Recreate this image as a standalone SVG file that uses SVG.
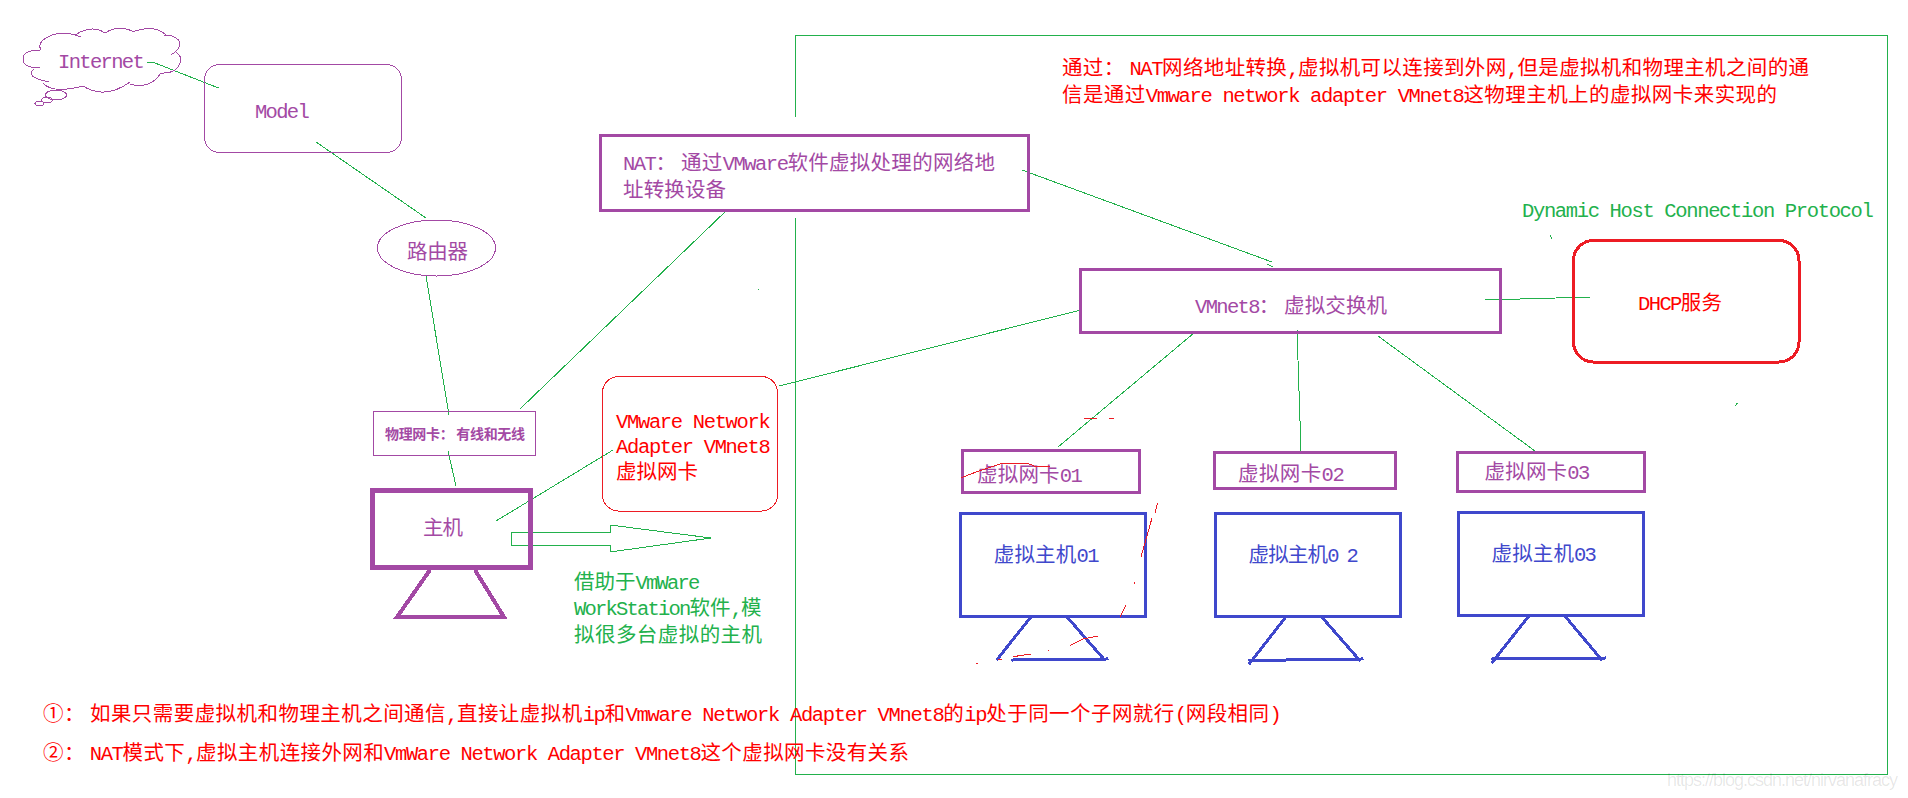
<svg xmlns="http://www.w3.org/2000/svg" width="1908" height="798" viewBox="0 0 1908 798">
<style>
path,rect,ellipse{shape-rendering:crispEdges}
text{font-family:"Noto Sans CJK SC","Liberation Mono",monospace;font-size:20.5px;white-space:pre}
.l{font-family:"Liberation Mono","Noto Sans CJK SC",monospace;font-size:20.5px;letter-spacing:-1.8px}
.p{fill:#A349A4}.r{fill:#FF0000}.g{fill:#22B14C}.b{fill:#3F48CC}
.box{fill:none;stroke:#A349A4;stroke-width:3}
.thin{fill:none;stroke:#A349A4;stroke-width:1}
.host{fill:none;stroke:#3F48CC;stroke-width:3}
.stand{fill:none;stroke:#3F48CC;stroke-width:3;stroke-linecap:square}
.c{fill:none;stroke:#22B14C;stroke-width:1}
.s{fill:none;stroke:#ED1C24;stroke-width:1}
</style>
<rect width="1908" height="798" fill="#fff"/>
<g id="frame" class="c"><path d="M795.500 117V35.500H1887.500V774.500H795.500V218"/></g>
<g id="connectors" class="c">
<path d="M147 62L155 63L218.500 88"/>
<path d="M316 142L426 218"/>
<path d="M426 276L449 415"/>
<path d="M448 451L456 486"/>
<path d="M520 409L727 210"/>
<path d="M496 521L613 450"/>
<path d="M779 386L1081 310"/>
<path d="M1022 170L1272 262M1267 264L1273 267"/>
<path d="M1485 300L1591 297"/>
<path d="M1194 333L1058 447"/>
<path d="M1297 330L1301 451"/>
<path d="M1378 336L1535 451"/>
<path d="M511 532H610V525L711 538L610 552V545H511Z"/>
<path d="M758.500 288.500V290M1550 235L1552 239M1735 406L1737.500 403"/>
</g>
<g id="internet">
<path class="thin" d="M40 50Q23 50 23 59T40 68M34 69Q24 77 49 82M43 83Q52 94 83 86M83 86Q105 100 130 82M130 84Q150 90 161 73M161 73Q178 74 181 60Q181 56 176 52M171 55Q186 45 176 38Q172 35 164 35M166 35Q155 24 132 32M134 32Q119 24 105 33M105 33Q92 24 75 35M81 37Q59 28 43 40Q38 45 41 50"/>
<ellipse class="thin" cx="56" cy="95" rx="10.500" ry="5"/><ellipse class="thin" cx="47" cy="100" rx="5.500" ry="3"/><ellipse class="thin" cx="39.500" cy="103.500" rx="4.500" ry="2"/>
<text class="p l" x="58" y="68" textLength="85">Internet</text>
</g>
<g id="model"><rect class="thin" x="204.500" y="64.500" width="197" height="88" rx="15"/><text class="p l" x="255" y="118" textLength="53">Model</text></g>
<g id="router"><ellipse class="thin" cx="436.500" cy="248" rx="59" ry="28"/><text class="p" x="407" y="259" textLength="61">路由器</text></g>
<g id="physical-nic"><rect class="thin" x="373.500" y="411.500" width="162" height="44"/><text class="p" x="385" y="439" font-weight="700" style="font-size:14px" textLength="140">物理网卡： 有线和无线</text></g>
<g id="host"><rect x="372.500" y="490.500" width="158" height="77" fill="none" stroke="#A349A4" stroke-width="5"/><path d="M430 570L397 617H504L475 570" fill="none" stroke="#A349A4" stroke-width="4"/><text class="p" x="423" y="535" textLength="40">主机</text></g>
<g id="adapter"><rect x="602.500" y="376.500" width="175" height="134.500" rx="16" fill="none" stroke="#ED1C24" stroke-width="1"/>
<text class="r l" x="616" y="427.700" textLength="153">VMware Network</text>
<text class="r l" x="616" y="453" textLength="153">Adapter VMnet8</text>
<text class="r" x="616" y="479" textLength="82">虚拟网卡</text></g>
<g id="workstation-note">
<text class="g" x="574" y="589"><tspan>借助于</tspan><tspan class="l">VmWare</tspan></text>
<text class="g" x="574" y="615"><tspan class="l">WorkStation</tspan><tspan>软件</tspan><tspan class="l">,</tspan><tspan>模</tspan></text>
<text class="g" x="574" y="642" textLength="188">拟很多台虚拟的主机</text></g>
<g id="nat"><rect class="box" x="600" y="135" width="428" height="75"/>
<text class="p" x="623" y="170" textLength="372"><tspan class="l">NAT</tspan><tspan>： 通过</tspan><tspan class="l">VMware</tspan><tspan>软件虚拟处理的网络地</tspan></text>
<text class="p" x="623" y="197" textLength="103">址转换设备</text></g>
<g id="vmnet8"><rect class="box" x="1080" y="269" width="420" height="63"/>
<text class="p" x="1195" y="313" textLength="192"><tspan class="l">VMnet8</tspan><tspan>： 虚拟交换机</tspan></text></g>
<g id="dhcp"><rect x="1573.500" y="240.500" width="225.500" height="121.500" rx="20" fill="none" stroke="#ED1C24" stroke-width="3"/>
<text class="r" x="1638" y="310" textLength="84"><tspan class="l">DHCP</tspan><tspan>服务</tspan></text></g>
<g id="dhcp-note"><text class="g l" x="1522" y="216.700" textLength="350">Dynamic Host Connection Protocol</text></g>
<g id="top-note">
<text class="r" x="1062" y="75" textLength="747"><tspan>通过： </tspan><tspan class="l">NAT</tspan><tspan>网络地址转换</tspan><tspan class="l">,</tspan><tspan>虚拟机可以连接到外网</tspan><tspan class="l">,</tspan><tspan>但是虚拟机和物理主机之间的通</tspan></text>
<text class="r" x="1062" y="101.700" textLength="715"><tspan>信是通过</tspan><tspan class="l">Vmware network adapter VMnet8</tspan><tspan>这物理主机上的虚拟网卡来实现的</tspan></text></g>
<g id="nic-01"><rect class="box" x="962.500" y="450.500" width="176.500" height="41.500"/><text class="p" x="977" y="482" textLength="104"><tspan>虚拟网卡</tspan><tspan class="l">01</tspan></text></g>
<g id="nic-02"><rect class="box" x="1214.500" y="452.500" width="181" height="36"/><text class="p" x="1238" y="481" textLength="105"><tspan>虚拟网卡</tspan><tspan class="l">02</tspan></text></g>
<g id="nic-03"><rect class="box" x="1457.500" y="452.500" width="187" height="38.500"/><text class="p" x="1484.500" y="478.700" textLength="104"><tspan>虚拟网卡</tspan><tspan class="l">03</tspan></text></g>
<g id="vhost-01"><rect class="host" x="960.500" y="513.500" width="185" height="103"/><path class="stand" d="M1030 618L997.500 659M1068 618L1103.700 659M1013 660L1107 659"/><text class="b" x="993.700" y="561.700" textLength="104"><tspan>虚拟主机</tspan><tspan class="l">01</tspan></text></g>
<g id="vhost-02"><rect class="host" x="1215.500" y="513.500" width="185" height="103"/><path class="stand" d="M1285 618L1250 663M1322.600 618L1359.400 660M1250 660.500L1362 659"/><text class="b" x="1248.500" y="561.700" textLength="108.500"><tspan>虚拟主机</tspan><tspan class="l">0 2</tspan></text></g>
<g id="vhost-03"><rect class="host" x="1458.500" y="512.500" width="185" height="103"/><path class="stand" d="M1528 617L1492.500 662M1565.700 617L1601 659M1492.500 659L1605 658"/><text class="b" x="1491.600" y="560.700" textLength="103.500"><tspan>虚拟主机</tspan><tspan class="l">03</tspan></text></g>
<g id="scribbles" class="s">
<path d="M960.700 478L979.500 470.700L1003 463H1026.700L1036 466.700L1050 467"/>
<path d="M1084 419L1097.500 418M1109 418.300H1114"/>
<path d="M1157.500 502.700L1155 513M1152 518L1141 557M1134 582V584M1126 605L1120 617"/>
<path d="M1097.500 636L1083 639L1069.700 645.700M1048 650V651M1031.500 654L1012.600 656.700M998 659H1002M976 663H978"/>
</g>
<g id="bottom-notes">
<text class="r" x="43" y="721" textLength="1237"><tspan>①： 如果只需要虚拟机和物理主机之间通信</tspan><tspan class="l">,</tspan><tspan>直接让虚拟机</tspan><tspan class="l">ip</tspan><tspan>和</tspan><tspan class="l">Vmware Network Adapter VMnet8</tspan><tspan>的</tspan><tspan class="l">ip</tspan><tspan>处于同一个子网就行</tspan><tspan class="l">(</tspan><tspan>网段相同</tspan><tspan class="l">)</tspan></text>
<text class="r" x="43" y="760" textLength="866"><tspan>②： </tspan><tspan class="l">NAT</tspan><tspan>模式下</tspan><tspan class="l">,</tspan><tspan>虚拟主机连接外网和</tspan><tspan class="l">VmWare Network Adapter VMnet8</tspan><tspan>这个虚拟网卡没有关系</tspan></text>
</g>
<text x="1667" y="786" textLength="231" fill="#000" fill-opacity="0.1" style="font-family:'Liberation Sans',sans-serif;font-size:18px">https://blog.csdn.net/nirvanafracy</text>
</svg>
